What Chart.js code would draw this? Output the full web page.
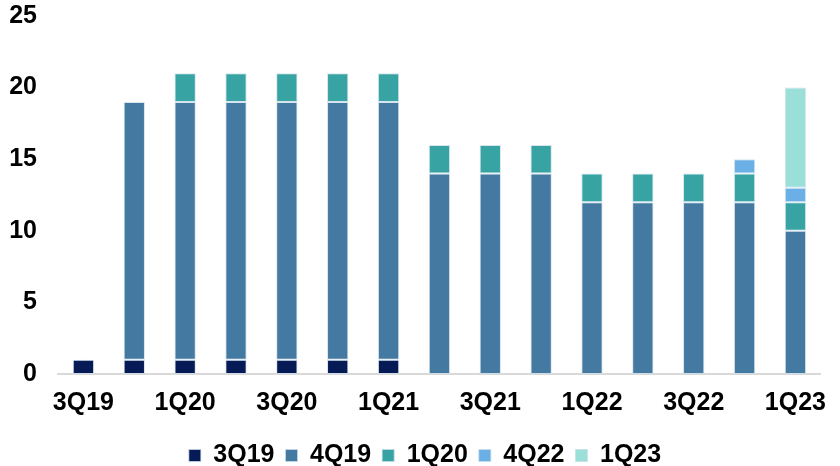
<!DOCTYPE html>
<html>
<head>
<meta charset="utf-8">
<script src="https://cdn.jsdelivr.net/npm/chart.js@4.4.0/dist/chart.umd.min.js"></script>
<style>
  html, body { margin: 0; padding: 0; background: #fff; }
  #wrap { width: 840px; height: 466px; }
</style>
</head>
<body>
<div id="wrap"><canvas id="chart"></canvas></div>
<script>
var quarters = ["3Q19", "4Q19", "1Q20", "2Q20", "3Q20", "4Q20", "1Q21", "2Q21",
                "3Q21", "4Q21", "1Q22", "2Q22", "3Q22", "4Q22", "1Q23"];

var s3Q19 = [1, 1, 1, 1, 1, 1, 1, 0, 0, 0, 0, 0, 0, 0, 0];
var s4Q19 = [0, 18, 18, 18, 18, 18, 18, 14, 14, 14, 12, 12, 12, 12, 10];
var s1Q20 = [0, 0, 2, 2, 2, 2, 2, 2, 2, 2, 2, 2, 2, 2, 2];
var s4Q22 = [0, 0, 0, 0, 0, 0, 0, 0, 0, 0, 0, 0, 0, 1, 1];
var s1Q23 = [0, 0, 0, 0, 0, 0, 0, 0, 0, 0, 0, 0, 0, 0, 7];

var yTicks = { min: 0, max: 25, step: 5 };

var font = { family: "'Liberation Sans', Arial, sans-serif", size: 25, weight: 'bold' };

function series(label, data, color) {
  return {
    label: label,
    data: data,
    backgroundColor: color,
    borderColor: 'rgba(200,220,232,0.75)',
    borderWidth: 1,
    borderSkipped: false,
    categoryPercentage: 1,
    barPercentage: 0.42
  };
}

var ctx = document.getElementById('chart');
var chart = new Chart(ctx, {
  type: 'bar',
  data: {
    labels: quarters,
    datasets: [
      series('3Q19', s3Q19, '#061a55'),
      series('4Q19', s4Q19, '#447aa2'),
      series('1Q20', s1Q20, '#37a3a3'),
      series('4Q22', s4Q22, '#6ab0e6'),
      series('1Q23', s1Q23, '#9ae0d8')
    ]
  },
  options: {
    responsive: true,
    maintainAspectRatio: false,
    animation: false,
    layout: { padding: { left: 10, right: 0, top: 16, bottom: -12 } },
    plugins: {
      tooltip: { enabled: false },
      legend: {
        position: 'bottom',
        labels: {
          boxWidth: 12,
          boxHeight: 12,
          padding: 11,
          color: '#000',
          font: font
        }
      }
    },
    scales: {
      x: {
        stacked: true,
        grid: { display: false, drawTicks: false },
        border: { display: true, color: '#d9d9d9', width: 2 },
        ticks: {
          autoSkip: false,
          maxRotation: 0,
          color: '#000',
          font: font,
          padding: 14,
          callback: function (v, i) { return i % 2 === 0 ? quarters[i] : ''; }
        }
      },
      y: {
        stacked: true,
        min: yTicks.min,
        max: yTicks.max,
        grid: { display: false, drawTicks: false },
        border: { display: false },
        afterFit: function (scale) {
          scale.width = 48;
          scale.paddingTop = 0;
          scale.paddingBottom = 0;
        },
        ticks: {
          stepSize: yTicks.step,
          color: '#000',
          font: font,
          padding: 21
        }
      }
    }
  }
});
</script>
</body>
</html>
